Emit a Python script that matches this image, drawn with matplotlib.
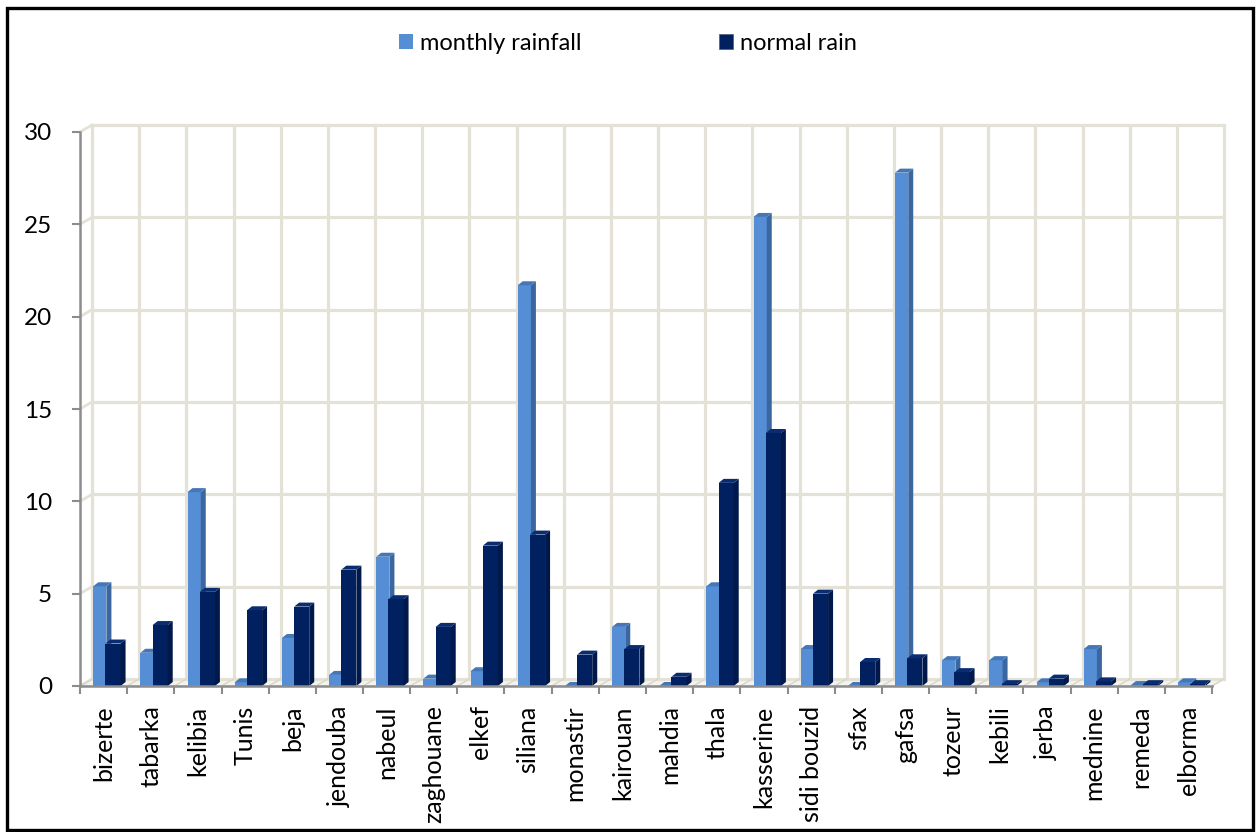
import matplotlib
matplotlib.use('Agg')
import matplotlib.pyplot as plt
from matplotlib.patches import Polygon, Patch, Rectangle
import numpy as np

plt.rcParams['font.family'] = ['Lato', 'DejaVu Sans']

# Data
stations = ['bizerte', 'tabarka', 'kelibia', 'Tunis', 'beja', 'jendouba', 'nabeul',
            'zaghouane', 'elkef', 'siliana', 'monastir', 'kairouan', 'mahdia', 'thala',
            'kasserine', 'sidi bouzid', 'sfax', 'gafsa', 'tozeur', 'kebili', 'jerba',
            'mednine', 'remeda', 'elborma']
monthly_rainfall = [5.4, 1.8, 10.5, 0.2, 2.6, 0.6, 7.0, 0.4, 0.8, 21.7, 0.0, 3.2,
                    0.0, 5.4, 25.4, 2.0, 0.0, 27.8, 1.4, 1.4, 0.2, 2.0, 0.05, 0.2]
normal_rain = [2.3, 3.3, 5.1, 4.1, 4.3, 6.3, 4.7, 3.2, 7.6, 8.2, 1.7, 2.0,
               0.5, 11.0, 13.7, 5.0, 1.3, 1.5, 0.75, 0.1, 0.4, 0.25, 0.1, 0.1]

W, H, DPI = 1256, 832, 100
fig = plt.figure(figsize=(W / DPI, H / DPI), dpi=DPI)

# axes placed in pixels: front plane of the 3D chart
left, right, bottom, top = 80, 1212, 686, 132
ax = fig.add_axes([left / W, 1 - bottom / H, (right - left) / W, (bottom - top) / H])
n = len(stations)
ax.set_xlim(-0.5, n - 0.5)
ax.set_ylim(0, 30)

pxx = (right - left) / n      # pixels per category
pxy = (bottom - top) / 30.0   # pixels per unit
# back wall offset
wx, wy = 12 / pxx, 7 / pxy
grid_c = '#e4e1d6'

# floor
floor = Polygon([(-0.5, 0), (n - 0.5, 0), (n - 0.5 + wx, wy), (-0.5 + wx, wy)],
                closed=True, facecolor='#f4f3ee', edgecolor=grid_c, lw=1, clip_on=False, zorder=1)
ax.add_patch(floor)
for b in np.arange(-0.5, n + 0.5, 1):
    ax.plot([b, b + wx], [0, wy], color='#d8d5ca', lw=1, clip_on=False, zorder=1.1)

# back wall gridlines
for yv in range(0, 31, 5):
    ax.plot([-0.5 + wx, n - 0.5 + wx], [yv + wy, yv + wy], color=grid_c, lw=2.3,
            clip_on=False, zorder=1, solid_capstyle='butt')
    ax.plot([-0.5, -0.5 + wx], [yv, yv + wy], color=grid_c, lw=2.0, clip_on=False, zorder=1)
for b in np.arange(-0.5, n + 0.5, 1):
    ax.plot([b + wx, b + wx], [wy, 30 + wy], color=grid_c, lw=2.3, clip_on=False, zorder=1)


def bar3d(x0, w, v, front, side, topc):
    dx, dy = 5 / pxx, 4 / pxy
    ax.add_patch(Rectangle((x0, 0), w, v, facecolor=front, edgecolor='none', zorder=3))
    ax.add_patch(Polygon([(x0 + w, 0), (x0 + w, v), (x0 + w + dx, v + dy), (x0 + w + dx, dy)],
                         closed=True, facecolor=side, edgecolor='none', zorder=3, clip_on=False))
    ax.add_patch(Polygon([(x0, v), (x0 + w, v), (x0 + w + dx, v + dy), (x0 + dx, v + dy)],
                         closed=True, facecolor=topc, edgecolor='none', zorder=3, clip_on=False))


for i in range(n):
    bar3d(i - 0.5 + 0.28, 0.28, monthly_rainfall[i], '#558ed5', '#3a679f', '#4577b8')
    bar3d(i - 0.5 + 0.54, 0.32, normal_rain[i], '#002060', '#00184a', '#0a2c70')

# spines and ticks
for s in ['top', 'right']:
    ax.spines[s].set_visible(False)
for s in ['left', 'bottom']:
    ax.spines[s].set_color('#8c8c8c')
    ax.spines[s].set_linewidth(1.8)
    ax.spines[s].set_zorder(5)

ax.set_yticks(range(0, 31, 5))
ax.tick_params(axis='y', length=6, width=1.5, color='#8c8c8c', labelsize=17.5, pad=14)
ax.set_xticks(range(n))
ax.set_xticklabels(stations, rotation=90, fontsize=18)
ax.tick_params(axis='x', length=0, pad=14)
ax.set_xticks(np.arange(-0.5, n, 1), minor=True)
ax.tick_params(axis='x', which='minor', length=6, width=1.5, color='#8c8c8c')
ax.patch.set_alpha(0)

# legend
handles = [Patch(facecolor='#558ed5', edgecolor='none', label='monthly rainfall'),
           Patch(facecolor='#002060', edgecolor='#4a5a80', lw=0.5, label='normal rain')]
fig.legend(handles=handles, loc='center', bbox_to_anchor=(0.5, 0.948), ncol=2,
           frameon=False, fontsize=17, handlelength=0.6, handleheight=0.6,
           handletextpad=0.3, columnspacing=5.8)

# outer border
fig.patches.append(Rectangle((7 / W, 2 / H), 1246 / W, 822 / H, transform=fig.transFigure,
                             fill=False, edgecolor='black', lw=2.4))

fig.savefig('out.png', dpi=DPI)
